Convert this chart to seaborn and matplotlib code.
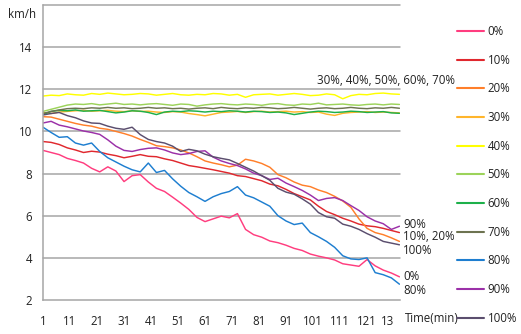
import numpy as np
import pandas as pd
import matplotlib
matplotlib.use("Agg")
import matplotlib.pyplot as plt
from matplotlib.lines import Line2D
import seaborn as sns

# Elapsed time (minutes), sampled every 3 minutes
minutes = np.arange(1, 134, 3)

ratios = ["0%", "10%", "20%", "30%", "40%", "50%", "60%", "70%", "80%", "90%", "100%"]

speed_0 = [9.10, 9.00, 8.90, 8.72, 8.62, 8.50, 8.25, 8.08, 8.32, 8.12,
           7.62, 7.90, 7.95, 7.60, 7.30, 7.15, 6.88, 6.60, 6.30, 5.92,
           5.72, 5.85, 5.98, 5.90, 6.10, 5.35, 5.10, 4.98, 4.80, 4.72,
           4.60, 4.45, 4.35, 4.18, 4.08, 4.00, 3.90, 3.72, 3.66, 3.60,
           3.92, 3.62, 3.42, 3.28, 3.10]
speed_10 = [9.52, 9.48, 9.38, 9.22, 9.12, 9.00, 9.06, 9.02, 8.92, 8.85,
            8.75, 8.82, 8.90, 8.82, 8.80, 8.70, 8.62, 8.50, 8.38, 8.32,
            8.25, 8.18, 8.10, 8.02, 7.90, 7.86, 7.76, 7.66, 7.50, 7.42,
            7.25, 7.05, 6.90, 6.75, 6.45, 6.20, 6.05, 5.88, 5.75, 5.60,
            5.52, 5.48, 5.40, 5.30, 5.20]
speed_20 = [10.70, 10.68, 10.58, 10.48, 10.38, 10.30, 10.25, 10.15, 10.10, 10.00,
            9.90, 9.78, 9.62, 9.48, 9.32, 9.28, 9.22, 9.12, 8.98, 8.80,
            8.60, 8.50, 8.42, 8.32, 8.40, 8.68, 8.60, 8.48, 8.30, 7.95,
            7.80, 7.60, 7.45, 7.38, 7.22, 7.10, 6.92, 6.70, 6.40, 5.85,
            5.40, 5.20, 5.10, 4.95, 4.78]
speed_30 = [10.90, 10.85, 10.92, 10.95, 10.98, 11.00, 10.96, 10.98, 11.00, 10.96,
            10.94, 10.98, 10.95, 10.96, 10.92, 10.90, 10.94, 10.92, 10.85, 10.80,
            10.74, 10.82, 10.90, 10.92, 10.95, 10.90, 10.94, 10.96, 10.92, 10.94,
            10.96, 10.92, 10.94, 10.90, 10.92, 10.82, 10.76, 10.86, 10.90, 10.92,
            10.94, 10.90, 10.92, 10.90, 10.88]
speed_40 = [11.68, 11.72, 11.70, 11.78, 11.74, 11.72, 11.80, 11.76, 11.82, 11.78,
            11.74, 11.76, 11.80, 11.78, 11.72, 11.76, 11.80, 11.74, 11.72, 11.76,
            11.74, 11.80, 11.78, 11.72, 11.76, 11.62, 11.74, 11.76, 11.78, 11.72,
            11.76, 11.80, 11.76, 11.70, 11.72, 11.78, 11.74, 11.55, 11.70, 11.76,
            11.74, 11.80, 11.82, 11.78, 11.76]
speed_50 = [10.95, 11.05, 11.15, 11.25, 11.30, 11.28, 11.32, 11.26, 11.30, 11.34,
            11.28, 11.30, 11.26, 11.30, 11.32, 11.28, 11.24, 11.30, 11.28, 11.20,
            11.26, 11.30, 11.32, 11.28, 11.26, 11.30, 11.28, 11.24, 11.30, 11.32,
            11.26, 11.24, 11.30, 11.28, 11.34, 11.26, 11.28, 11.30, 11.26, 11.24,
            11.28, 11.30, 11.26, 11.30, 11.28]
speed_60 = [10.80, 10.95, 11.00, 10.98, 11.02, 10.96, 10.98, 11.00, 10.94, 10.88,
            10.92, 10.98, 10.96, 10.90, 10.80, 10.92, 10.96, 10.94, 10.98, 10.96,
            10.92, 10.96, 10.94, 10.98, 10.96, 10.92, 10.96, 10.94, 10.90, 10.92,
            10.88, 10.80, 10.86, 10.92, 10.96, 10.94, 10.90, 10.92, 10.96, 10.94,
            10.90, 10.92, 10.94, 10.88, 10.86]
speed_70 = [10.85, 10.95, 11.02, 11.08, 11.10, 11.08, 11.12, 11.10, 11.14, 11.10,
            11.12, 11.08, 11.10, 11.14, 11.10, 11.12, 11.08, 11.10, 11.06, 11.10,
            11.12, 11.08, 11.14, 11.10, 11.08, 11.12, 11.10, 11.14, 11.12, 11.08,
            11.10, 11.14, 11.10, 11.06, 11.10, 11.12, 11.08, 11.10, 11.14, 11.10,
            11.08, 11.12, 11.10, 11.14, 11.10]
speed_80 = [10.20, 9.95, 9.72, 9.75, 9.45, 9.35, 9.45, 9.05, 8.75, 8.55,
            8.35, 8.18, 8.08, 8.50, 8.05, 8.15, 7.75, 7.40, 7.10, 6.90,
            6.68, 6.90, 7.05, 7.15, 7.38, 6.98, 6.85, 6.65, 6.45, 6.00,
            5.75, 5.58, 5.65, 5.20, 5.00, 4.78, 4.50, 4.10, 3.95, 3.92,
            4.00, 3.30, 3.20, 3.05, 2.75]
speed_90 = [10.40, 10.48, 10.30, 10.22, 10.12, 10.02, 9.95, 9.86, 9.60, 9.30,
            9.10, 9.05, 9.14, 9.20, 9.22, 9.12, 8.98, 8.90, 8.95, 9.05,
            9.08, 8.78, 8.60, 8.48, 8.38, 8.22, 8.02, 7.90, 7.72, 7.78,
            7.55, 7.38, 7.20, 6.98, 6.72, 6.82, 6.86, 6.72, 6.48, 6.25,
            5.95, 5.75, 5.62, 5.35, 5.50]
speed_100 = [10.78, 10.85, 10.90, 10.75, 10.65, 10.50, 10.40, 10.38, 10.25, 10.15,
             10.10, 10.20, 9.85, 9.62, 9.52, 9.45, 9.30, 9.05, 9.15, 9.08,
             8.92, 8.80, 8.72, 8.65, 8.48, 8.30, 8.12, 7.90, 7.68, 7.30,
             7.12, 7.02, 6.80, 6.55, 6.15, 5.95, 5.88, 5.60, 5.50, 5.35,
             5.15, 4.98, 4.78, 4.70, 4.62]

series = [speed_0, speed_10, speed_20, speed_30, speed_40, speed_50,
          speed_60, speed_70, speed_80, speed_90, speed_100]

colors = ["#FF3D7F", "#E0282E", "#FF7F2A", "#FFB52B", "#FFFF00", "#9CD35A",
          "#1DB04A", "#6D7350", "#1E7ED0", "#9B30A8", "#5B4E6E"]

x_ticks = [1, 11, 21, 31, 41, 51, 61, 71, 81, 91, 101, 111, 121, 131]
x_tick_labels = ["1", "11", "21", "31", "41", "51", "61", "71", "81", "91",
                 "101", "111", "121", "13"]
y_ticks = [2, 4, 6, 8, 10, 12, 14]

df = pd.concat(
    [pd.DataFrame({"minute": minutes, "speed": s, "ratio": r})
     for r, s in zip(ratios, series)],
    ignore_index=True,
)

sns.set_theme(style="white")
plt.rcParams["font.family"] = ["Open Sans", "DejaVu Sans"]

fig = plt.figure(figsize=(5.21, 3.34), dpi=100)
ax = fig.add_axes([43 / 521, 1 - 300 / 334, 357 / 521, 295 / 334])

grid_color = "#A6A6A6"
for v in [4, 6, 8, 10, 12, 14, 16]:
    ax.axhline(v, color=grid_color, lw=1.1, zorder=0, clip_on=False)

sns.lineplot(data=df, x="minute", y="speed", hue="ratio", hue_order=ratios,
             palette=colors, lw=1.05, legend=False, ax=ax, zorder=2)

ax.set_xlim(1, 133.2)
ax.set_ylim(2, 16)
ax.set_xlabel("")
ax.set_ylabel("")

ax.set_xticks(x_ticks)
ax.set_xticklabels(x_tick_labels)
ax.set_yticks(y_ticks)
ax.tick_params(axis="x", direction="in", length=4, width=1, color=grid_color,
               pad=11, labelsize=8.3, labelcolor="#222222")
ax.tick_params(axis="y", length=0, pad=8, labelsize=8.3, labelcolor="#222222")
for lbl in ax.get_xticklabels():
    if lbl.get_text() == "13":
        lbl.set_horizontalalignment("right")

for side in ["top", "right"]:
    ax.spines[side].set_visible(False)
for side in ["left", "bottom"]:
    ax.spines[side].set_color(grid_color)
    ax.spines[side].set_linewidth(1.1)

fig.text(22 / 521, 1 - 14 / 334, "km/h", ha="center", va="center",
         fontsize=8.3, color="#222222")
fig.text(405 / 521, 1 - 319 / 334, "Time(min)", ha="left", va="center",
         fontsize=8.3, color="#222222")

# Group labels next to the line ends
fig.text(317 / 521, 1 - 80 / 334, "30%, 40%, 50%, 60%, 70%", ha="left",
         va="center", fontsize=8.3, color="#222222")
for txt, yy in [("90%", 224), ("10%, 20%", 237), ("100%", 251),
                ("0%", 277), ("80%", 291)]:
    fig.text(403 / 521, 1 - yy / 334, txt, ha="left", va="center",
             fontsize=8.3, color="#222222")

handles = [Line2D([], [], color=c, lw=1.5) for c in colors]
leg = fig.legend(handles, ratios, loc="upper left",
                 bbox_to_anchor=(457 / 521, 1 - 25 / 334), frameon=False,
                 fontsize=8.3, handlelength=2.35, handletextpad=0.3,
                 labelspacing=1.36, borderaxespad=0, borderpad=0)
for t in leg.get_texts():
    t.set_color("#222222")

fig.savefig("out.png", dpi=100)
